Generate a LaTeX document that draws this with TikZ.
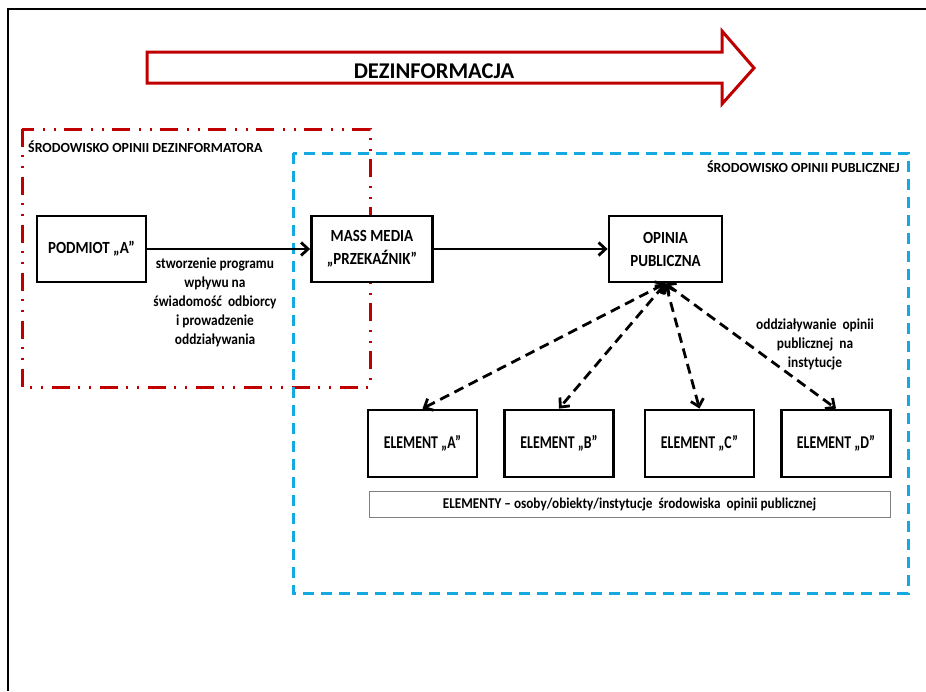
\documentclass[tikz,border=0pt]{standalone}
\usepackage{fontspec}
\setmainfont{Carlito}
\newfontfamily\condA[FakeStretch=0.77]{Carlito}
\newfontfamily\condB[FakeStretch=0.88]{Carlito}
\usetikzlibrary{arrows.meta}
\definecolor{dred}{RGB}{192,0,0}
\definecolor{sky}{RGB}{20,170,225}
\begin{document}
\begin{tikzpicture}[x=1pt,y=-1pt,
  box/.style={draw, fill=white, line width=2.8pt, align=center, inner sep=0pt,
    minimum height=66pt, font=\condB\bfseries\fontsize{17}{23}\selectfont},
  ebox/.style={draw, fill=white, line width=2.8pt, align=center, inner sep=0pt,
    minimum width=109pt, minimum height=67pt, font=\condA\bfseries\fontsize{18}{20}\selectfont},
  solidarr/.style={line width=2.8pt, -{Straight Barb[length=7pt,width=13pt]}},
  dasharr/.style={line width=2.8pt, dash pattern=on 10pt off 6pt,
    {Straight Barb[length=7pt,width=13pt]}-{Straight Barb[length=7pt,width=13pt]}},
  lab/.style={font=\bfseries\fontsize{13.9}{16}\selectfont, inner sep=0pt},
  note/.style={align=center, inner sep=0pt, font=\condB\bfseries\fontsize{15.2}{19}\selectfont},
  reddash/.style={draw=dred, line width=3pt,
    dash pattern=on 18pt off 8pt on 2pt off 9pt on 2pt off 9pt},
  bluedash/.style={draw=sky, line width=3pt, dash pattern=on 11pt off 7pt}
]
\useasboundingbox (0,0) rectangle (926,691);
\fill[white] (0,0) rectangle (926,691);
% frame
\draw[line width=2pt] (8,691) -- (8,9) -- (926,9);
% big arrow
\draw[draw=dred, line width=3pt, fill=white, line join=miter]
  (147,52) -- (722,52) -- (722,31) -- (754,68) -- (722,104) -- (722,83) -- (147,83) -- cycle;
\node[font=\bfseries\fontsize{22.5}{26}\selectfont, inner sep=0pt] (dez) at (434,71) {DEZINFORMACJA};
% environments
\draw[reddash] (22,129) rectangle (370,387);
\draw[bluedash] (293,153) rectangle (908,593);
\node[lab, anchor=west] (envd) at (28,147) {ŚRODOWISKO OPINII DEZINFORMATORA};
\node[lab, anchor=east] (envp) at (900,167) {ŚRODOWISKO OPINII PUBLICZNEJ};
% main boxes
\node[box, minimum width=109pt] (pod) at (91.5,249) {PODMIOT „A”};
\node[box, minimum width=121pt] (mm) at (372,249) {MASS MEDIA\\„PRZEKAŹNIK”};
\node[box, minimum width=113pt] (op) at (665.5,249) {OPINIA\\PUBLICZNA};
% elements
\node[ebox] (ea) at (422.5,443.5) {ELEMENT „A”};
\node[ebox] (eb) at (559,443.5) {ELEMENT „B”};
\node[ebox] (ec) at (699.5,443.5) {ELEMENT „C”};
\node[ebox] (ed) at (836,443.5) {ELEMENT „D”};
\node[draw=gray, line width=1pt, minimum width=521pt, minimum height=26pt, inner sep=0pt,
  font=\condB\bfseries\fontsize{15}{16}\selectfont] (bar) at (629.5,504.5)
  {ELEMENTY – osoby/obiekty/instytucje\ \ środowiska\ \ opinii publicznej};
% connectors
\draw[solidarr] (pod.east) -- (mm.west);
\draw[solidarr] (mm.east) -- (op.west);
\draw[dasharr] (op.south) -- (ea.north);
\draw[dasharr] (op.south) -- (eb.north);
\draw[dasharr] (op.south) -- (ec.north);
\draw[dasharr] (op.south) -- (ed.north);
% notes
\node[note] (n1) at (215,302) {stworzenie programu\\wpływu na\\świadomość\ \ odbiorcy\\i prowadzenie\\oddziaływania};
\node[note] (n2) at (815,344) {oddziaływanie\ \ opinii\\publicznej\ \ na\\instytucje};
\end{tikzpicture}
\end{document}
